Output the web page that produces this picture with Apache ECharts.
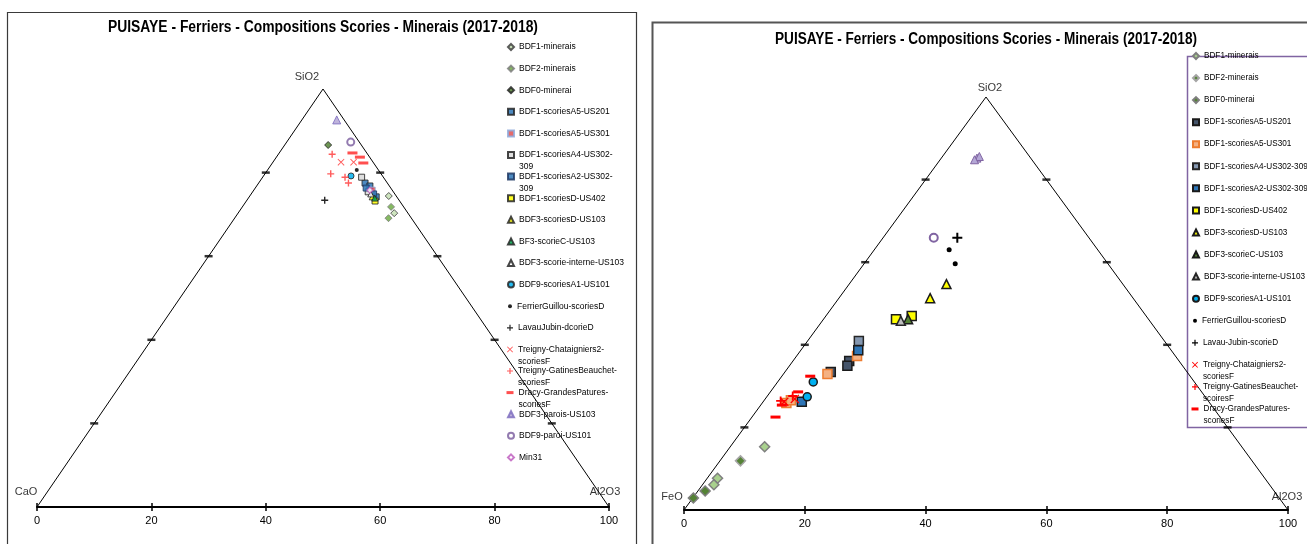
<!DOCTYPE html>
<html><head><meta charset="utf-8">
<script src="https://cdn.jsdelivr.net/npm/echarts@6/dist/echarts.min.js"></script>
<style>html,body{margin:0;padding:0;background:#fff}#c{width:1307px;height:544px}</style>
</head><body><div id="c"></div><script>
const NFONT = '"Liberation Sans Narrow","Liberation Sans",sans-serif';
const LFONT = '"Liberation Sans","DejaVu Sans",sans-serif';
const TITLE = 'PUISAYE - Ferriers - Compositions Scories - Minerais (2017-2018)';

// axis ticks
const axisMin = 0, axisMax = 100, axisStep = 20;
const edgeTicks = [20, 40, 60, 80];

// ---- Left diagram: [SiO2, CaO, Al2O3] ----
const L_BDF1_min = [[74.4,1.3,24.3],[70.3,2.4,27.3]];
const L_BDF2_min = [[71.8,2.2,26.0],[69.1,4.0,26.9]];
const L_BDF0_min = [[86.6,5.8,7.6]];
const L_A5_201 = [[77.5,3.9,18.6],[76.8,3.4,19.8],[74.2,3.6,22.2]];
const L_A5_301 = [[75.8,3.5,20.7]];
const L_A4 = [[78.9,3.8,17.3],[75.4,4.4,20.2]];
const L_A2 = [[76.3,4.3,19.4],[74.9,3.7,21.4]];
const L_D402 = [[73.2,4.3,22.5]];
const L_B3D = [[74.2,4.3,21.5]];
const L_B3C = [[73.9,4.0,22.1]];
const L_B3I = [[74.9,4.2,20.9]];
const L_B9A1 = [[79.2,5.5,15.3]];
const L_FG = [[80.6,3.8,15.6]];
const L_LJ = [[73.4,13.0,13.6]];
const L_TC = [[82.5,5.6,11.9],[82.5,3.4,14.1]];
const L_TG = [[84.4,6.2,9.4],[79.7,8.8,11.5],[78.9,6.7,14.4],[77.5,6.8,15.7]];
const L_DG = [[84.7,2.5,12.8],[83.7,1.7,14.6],[82.3,1.8,15.9]];
const L_B3P = [[92.6,1.3,6.1]];
const L_B9P = [[87.3,1.5,11.2]];
const L_MIN31 = [[75.8,3.9,20.3]];

// ---- Right diagram: [SiO2, FeO, Al2O3] ----
const R_BDF1_min = [[15.3,79.0,5.7],[7.7,90.6,1.7],[6.1,92.0,1.9]];
const R_BDF2_min = [[11.9,84.7,3.4]];
const R_BDF0_min = [[4.6,94.2,1.2],[2.9,97.0,0.1]];
const R_A5_201 = [[36.1,54.6,9.3],[34.9,55.5,9.6],[33.4,59.0,7.6]];
const R_A5_301 = [[37.3,52.7,10.0],[32.9,59.8,7.3],[25.9,70.1,4.0],[26.6,69.0,4.4]];
const R_A4 = [[40.9,50.6,8.5]];
const R_A2 = [[38.7,51.8,9.5],[26.2,67.4,6.4]];
const R_D402 = [[46.2,41.8,12.0],[47.0,38.8,14.2]];
const R_B3D = [[54.7,29.2,16.1],[51.3,33.6,15.1]];
const R_B3C = [[46.2,39.8,14.0]];
const R_B3I = [[45.8,41.2,13.0]];
const R_B9A1 = [[31.0,63.1,5.9],[27.4,65.9,6.7]];
const R_FG = [[63.0,24.6,12.4],[59.6,25.3,15.1]];
const R_LJ = [[65.9,21.8,12.3]];
const R_TC = [[26.2,70.3,3.5],[26.9,68.2,4.9]];
const R_TG = [[26.4,70.8,2.8],[27.6,68.2,4.2]];
const R_DG = [[32.4,62.9,4.7],[28.6,66.8,4.6],[25.4,71.1,3.5],[22.5,73.6,3.9]];
const R_B3P = [[85.2,8.9,5.9],[85.6,8.3,6.1],[84.8,9.5,5.7]];
const R_B9P = [[65.9,25.7,8.4]];

// legend labels
const L_names = ['BDF1-minerais','BDF2-minerais','BDF0-minerai','BDF1-scoriesA5-US201','BDF1-scoriesA5-US301',
 'BDF1-scoriesA4-US302-309','BDF1-scoriesA2-US302-309','BDF1-scoriesD-US402','BDF3-scoriesD-US103','BF3-scorieC-US103',
 'BDF3-scorie-interne-US103','BDF9-scoriesA1-US101','FerrierGuillou-scoriesD','LavauJubin-dcorieD',
 'Treigny-Chataigniers2-scoriesF','Treigny-GatinesBeauchet-scoriesF','Dracy-GrandesPatures-scoriesF',
 'BDF3-parois-US103','BDF9-paroi-US101','Min31'];
const L_labels = ['BDF1-minerais','BDF2-minerais','BDF0-minerai','BDF1-scoriesA5-US201','BDF1-scoriesA5-US301',
 'BDF1-scoriesA4-US302-\n309','BDF1-scoriesA2-US302-\n309','BDF1-scoriesD-US402','BDF3-scoriesD-US103','BF3-scorieC-US103',
 'BDF3-scorie-interne-US103','BDF9-scoriesA1-US101','FerrierGuillou-scoriesD','LavauJubin-dcorieD',
 'Treigny-Chataigniers2-\nscoriesF','Treigny-GatinesBeauchet-\nscoriesF','Dracy-GrandesPatures-\nscoriesF',
 'BDF3-parois-US103','BDF9-paroi-US101','Min31'];
const R_labels = ['BDF1-minerais','BDF2-minerais','BDF0-minerai','BDF1-scoriesA5-US201','BDF1-scoriesA5-US301',
 'BDF1-scoriesA4-US302-309','BDF1-scoriesA2-US302-309','BDF1-scoriesD-US402','BDF3-scoriesD-US103','BDF3-scorieC-US103',
 'BDF3-scorie-interne-US103','BDF9-scoriesA1-US101','FerrierGuillou-scoriesD','Lavau-Jubin-scorieD',
 'Treigny-Chataigniers2-\nscoriesF','Treigny-GatinesBeauchet-\nscoiresF','Dracy-GrandesPatures-\nscoriesF'];

const PLUS = 'path://M4,0H6V4H10V6H6V10H4V6H0V4H4Z';
const CROSS = 'path://M1,0L5,4L9,0L10,1L6,5L10,9L9,10L5,6L1,10L0,9L4,5L0,1Z';

const L_style = [
 {s:'diamond',z:7,c:'#c5e0b4',b:'#404040',w:1},
 {s:'diamond',z:7,c:'#70ad47',b:'#7f7f7f',w:1},
 {s:'diamond',z:7,c:'#548235',b:'#262626',w:1},
 {s:'rect',z:6,c:'#2e75b6',b:'#262626',w:1},
 {s:'rect',z:6,c:'#e05050',b:'#8faadc',w:1},
 {s:'rect',z:6,c:'#d9d9d9',b:'#262626',w:1},
 {s:'rect',z:6,c:'#2e75b6',b:'#203864',w:1},
 {s:'rect',z:6,c:'#ffff00',b:'#262626',w:1},
 {s:'triangle',z:6,c:'#ffff00',b:'#262626',w:1},
 {s:'triangle',z:6,c:'#00b050',b:'#262626',w:1},
 {s:'triangle',z:6,c:'#ffffff',b:'#262626',w:1},
 {s:'circle',z:6,c:'#00b0f0',b:'#262626',w:1},
 {s:'circle',z:4,c:'#000000',b:'#000000',w:0},
 {s:PLUS,z:7,c:'#000000',b:'#000',w:0},
 {s:CROSS,z:7,c:'#ff4040',b:'#000',w:0},
 {s:PLUS,z:7,c:'#ff4040',b:'#000',w:0},
 {s:'rect',z:[10,3],c:'#ff3030',b:'#000',w:0},
 {s:'triangle',z:8,c:'#b4a7d6',b:'#7f6fbf',w:1},
 {s:'circle',z:7,c:'#ffffff',b:'#8064a2',w:2},
 {s:'diamond',z:6,c:'#ffffff',b:'#c060c0',w:1.2}
];
const R_style = [
 {s:'diamond',z:10,c:'#a9d18e',b:'#7f7f7f',w:1.5},
 {s:'diamond',z:10,c:'#548235',b:'#a5a5a5',w:1.5},
 {s:'diamond',z:10,c:'#548235',b:'#7f7f7f',w:1.5},
 {s:'rect',z:9,c:'#44546a',b:'#1a1a1a',w:1.5},
 {s:'rect',z:9,c:'#f4b183',b:'#ed7d31',w:1.5},
 {s:'rect',z:9,c:'#8497b0',b:'#262626',w:1.5},
 {s:'rect',z:9,c:'#2e75b6',b:'#1a1a1a',w:1.5},
 {s:'rect',z:9,c:'#ffff00',b:'#1a1a1a',w:1.5},
 {s:'triangle',z:9,c:'#ffff00',b:'#1a1a1a',w:1.5},
 {s:'triangle',z:9,c:'#548235',b:'#1a1a1a',w:1.5},
 {s:'triangle',z:9,c:'#bfbfbf',b:'#262626',w:1.5},
 {s:'circle',z:8,c:'#00b0f0',b:'#1a1a1a',w:1.5},
 {s:'circle',z:5,c:'#000000',b:'#000',w:0},
 {s:PLUS,z:10,c:'#000000',b:'#000',w:0},
 {s:CROSS,z:9,c:'#ff0000',b:'#000',w:0},
 {s:PLUS,z:9,c:'#ff0000',b:'#000',w:0},
 {s:'rect',z:[10,3],c:'#ff0000',b:'#000',w:0},
 {s:'triangle',z:8,c:'#b4a7d6',b:'#8064a2',w:1},
 {s:'circle',z:8,c:'#ffffff',b:'#8064a2',w:2}
];

const L_data = [L_BDF1_min,L_BDF2_min,L_BDF0_min,L_A5_201,L_A5_301,L_A4,L_A2,L_D402,L_B3D,L_B3C,L_B3I,L_B9A1,L_FG,L_LJ,L_TC,L_TG,L_DG,L_B3P,L_B9P,L_MIN31];
const R_data = [R_BDF1_min,R_BDF2_min,R_BDF0_min,R_A5_201,R_A5_301,R_A4,R_A2,R_D402,R_B3D,R_B3C,R_B3I,R_B9A1,R_FG,R_LJ,R_TC,R_TG,R_DG,R_B3P,R_B9P];
const R_names = R_labels.map(s => 'R:' + s.replace('\n','')).concat(['R:BDF3-parois-US103','R:BDF9-paroi-US101']);

const H = Math.sqrt(3) / 2 * 100;
// ternary [top, left, right] -> cartesian
function tern(t) { const s = t[0] + t[1] + t[2]; return [(t[2] + t[0] / 2) / s * 100, t[0] / s * H]; }

const series = [];
const legends = [];

function panel(xi, yi, names, data, styles, opacity, vertexNames, labelOffsets) {
  series.push({type:'line', xAxisIndex:xi, yAxisIndex:yi, silent:true, symbol:'none', z:1,
    data:[tern([0,100,0]), tern([100,0,0]), tern([0,0,100])], lineStyle:{color:'#000', width:1}});
  const tk = [];
  edgeTicks.forEach(v => { tk.push(tern([v,100-v,0])); tk.push(tern([v,0,100-v])); });
  series.push({type:'scatter', xAxisIndex:xi, yAxisIndex:yi, silent:true, symbol:'rect', symbolSize:[8,2.5], z:2,
    itemStyle:{color:'#000'}, data:tk});
  const verts = [[100,0,0],[0,100,0],[0,0,100]];
  series.push({type:'scatter', xAxisIndex:xi, yAxisIndex:yi, silent:true, symbolSize:0, z:2,
    data: verts.map((v,i) => ({value: tern(v), label:{show:true, position:'inside', offset:labelOffsets[i],
      formatter: vertexNames[i], color:'#000', fontSize:11, fontFamily:LFONT}}))});
  names.forEach((n, i) => {
    const st = styles[i];
    series.push({type:'scatter', name:n, xAxisIndex:xi, yAxisIndex:yi, z:3+i*0.01,
      data: data[i].map(tern), symbol: st.s, symbolSize: st.z,
      itemStyle:{color: st.c, borderColor: st.b, borderWidth: st.w, opacity: opacity},
      emphasis:{disabled:true}});
  });
}

panel(0, 0, L_names, L_data, L_style, 0.85, ['SiO2','CaO','Al2O3'], [[-16,-12],[-11,-15],[-4,-15]]);
panel(2, 1, R_names, R_data, R_style, 1, ['SiO2','FeO','Al2O3'], [[4,-9],[-12,-13],[-1,-13]]);

function addLegend(name, label, cx, cy, st, fs, lh) {
  const wrapped = label.indexOf('\n') >= 0;
  let iw = 6, ih = 6;
  if (Array.isArray(st.z)) { iw = 7; ih = 3; }
  if (st.s === 'circle' && st.w === 0) { iw = 4; ih = 4; }
  const text = wrapped ? '\n' + label : label;
  legends.push({
    data:[name], left: cx - iw/2, top: cy - (wrapped ? lh*1.5 : lh/2),
    itemWidth: iw, itemHeight: ih, padding:0, itemGap:0, selectedMode:false, orient:'vertical',
    formatter: () => text,
    textStyle:{fontSize:fs, lineHeight:lh, fontFamily:LFONT, color:'#000'}
  });
}
L_labels.forEach((lab, i) => addLegend(L_names[i], lab, 510, 47 + i*21.6, L_style[i], 8.5, 12));
R_labels.forEach((lab, i) => addLegend(R_names[i], lab, 1195, 56 + i*22.06, R_style[i], 8.2, 11.5));

function xAxes(gi) {
  return [
    {gridIndex:gi, type:'value', min:axisMin, max:axisMax, interval:axisStep, position:'bottom',
     axisLine:{onZero:false, lineStyle:{color:'#000', width:2}},
     axisTick:{length:4, lineStyle:{color:'#000', width:1.5}},
     axisLabel:{color:'#000', fontSize:11, fontFamily:LFONT, margin:8}, splitLine:{show:false}},
    {gridIndex:gi, type:'value', min:axisMin, max:axisMax, interval:axisStep, position:'bottom',
     axisLine:{show:false}, axisTick:{inside:true, length:4, lineStyle:{color:'#000', width:1.5}},
     axisLabel:{show:false}, splitLine:{show:false}}
  ];
}

const chart = echarts.init(document.getElementById('c'), null, {renderer:'canvas'});
chart.setOption({
  animation:false,
  backgroundColor:'#fff',
  grid:[
    {left:37, top:89, width:572, height:418, containLabel:false, outerBoundsMode:'none'},
    {left:684, top:97, width:604, height:413, containLabel:false, outerBoundsMode:'none'}
  ],
  xAxis: xAxes(0).concat(xAxes(1)),
  yAxis:[{gridIndex:0, type:'value', min:0, max:H, show:false},{gridIndex:1, type:'value', min:0, max:H, show:false}],
  legend: legends,
  tooltip:{show:false},
  graphic:[
    {type:'rect', shape:{x:7.5, y:12.5, width:629, height:545}, style:{fill:null, stroke:'#3a3a3a', lineWidth:1.2}, silent:true, z:-10},
    {type:'rect', shape:{x:652.5, y:22.5, width:670, height:535}, style:{fill:null, stroke:'#555', lineWidth:2}, silent:true, z:-10},
    {type:'rect', shape:{x:1187.5, y:56.5, width:130, height:371}, style:{fill:null, stroke:'#8064a2', lineWidth:1.5}, silent:true, z:-10},
    {type:'text', x:323, y:28, scaleX:0.866, style:{text:TITLE, textAlign:'center', textVerticalAlign:'middle', fontSize:16, fontWeight:'bold', fontFamily:NFONT, fill:'#000'}},
    {type:'text', x:986, y:40, scaleX:0.85, style:{text:TITLE, textAlign:'center', textVerticalAlign:'middle', fontSize:16, fontWeight:'bold', fontFamily:NFONT, fill:'#000'}}
  ],
  series: series
});
</script></body></html>
